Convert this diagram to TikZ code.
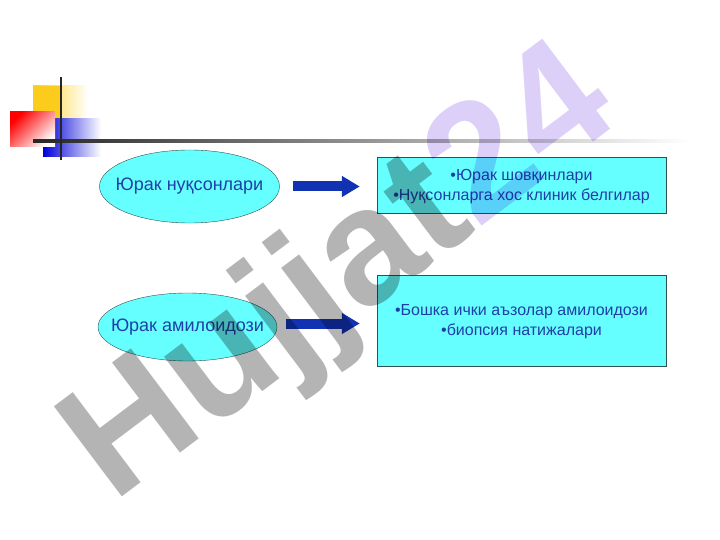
\documentclass[tikz,border=0pt]{standalone}
\usepackage{fontspec}
\setmainfont{Liberation Sans}
\usetikzlibrary{arrows.meta,shapes.geometric}
\definecolor{paleaqua}{HTML}{66FFFF}
\definecolor{inkblue}{HTML}{1F3FA8}
\definecolor{rimgray}{HTML}{2F5050}
\definecolor{arrowblue}{HTML}{1232B4}
\definecolor{markgray}{HTML}{B4B4B4}
\definecolor{marklilac}{HTML}{DCD0F8}

\begin{document}
\begin{tikzpicture}[x=1pt,y=-1pt,
	topic/.style={ellipse, draw=rimgray, fill=paleaqua, inner sep=0pt, text=inkblue, font=\fontsize{18}{20}\selectfont},
	info/.style={rectangle, draw=rimgray, fill=paleaqua, minimum width=289pt, text=inkblue, align=center, font=\fontsize{16}{20}\selectfont},
	link/.style={arrowblue, line width=10pt, -{Triangle[length=18pt,width=20pt]}}]
	\useasboundingbox (0,0) rectangle (720,540);

	% corner ornament
	\shade[left color=yellow!60!orange!90, right color=white] (33,86) rectangle (88,120);
	\fill[yellow!60!orange!90] (33,86) rectangle (62,120);
	\shade[left color=blue!85!black, right color=white] (43,119) rectangle (101,157);
	\shade[top color=red, bottom color=white, shading angle=45] (10,112) rectangle (55,147);
	\shade[left color=black!85, right color=white] (33,139.5) rectangle (690,142.5);
	\draw[black!85, line width=2.5pt] (61,77) -- (61,160);

	% shapes
	\node[topic, minimum width=180pt, minimum height=73pt] (defect) at (189.5,186.5) {\makebox[0pt]{Юрак нуқсонлари}};
	\node[topic, minimum width=179pt, minimum height=68pt] (amyloid) at (187.5,327) {\makebox[0pt]{Юрак амилоидози}};
	\node[info, minimum height=56pt] (signs) at (521.5,185) {\rule{0pt}{14pt}•Юрак шовқинлари\\•Нуқсонларга хос клиник белгилар};
	\node[info, minimum height=91pt] (biopsy) at (521.5,320.5) {\rule{0pt}{14pt}•Бошка ички аъзолар амилоидози\\•биопсия натижалари};

	\draw[link] ([xshift=13pt]defect.east) -- ([xshift=-17pt]defect.east -| signs.west);
	\draw[link] ([xshift=9pt,yshift=3.5pt]amyloid.east) -- ([xshift=-17pt,yshift=3.5pt]amyloid.east -| biopsy.west);

	% watermark
	\begin{scope}[blend mode=multiply]
		\node[rotate=37, font=\bfseries\fontsize{164}{164}\selectfont, inner sep=0pt] (mark) at (343,278)
			{\textcolor{markgray}{Hujjat}\textcolor{marklilac}{24}};
	\end{scope}
\end{tikzpicture}
\end{document}
